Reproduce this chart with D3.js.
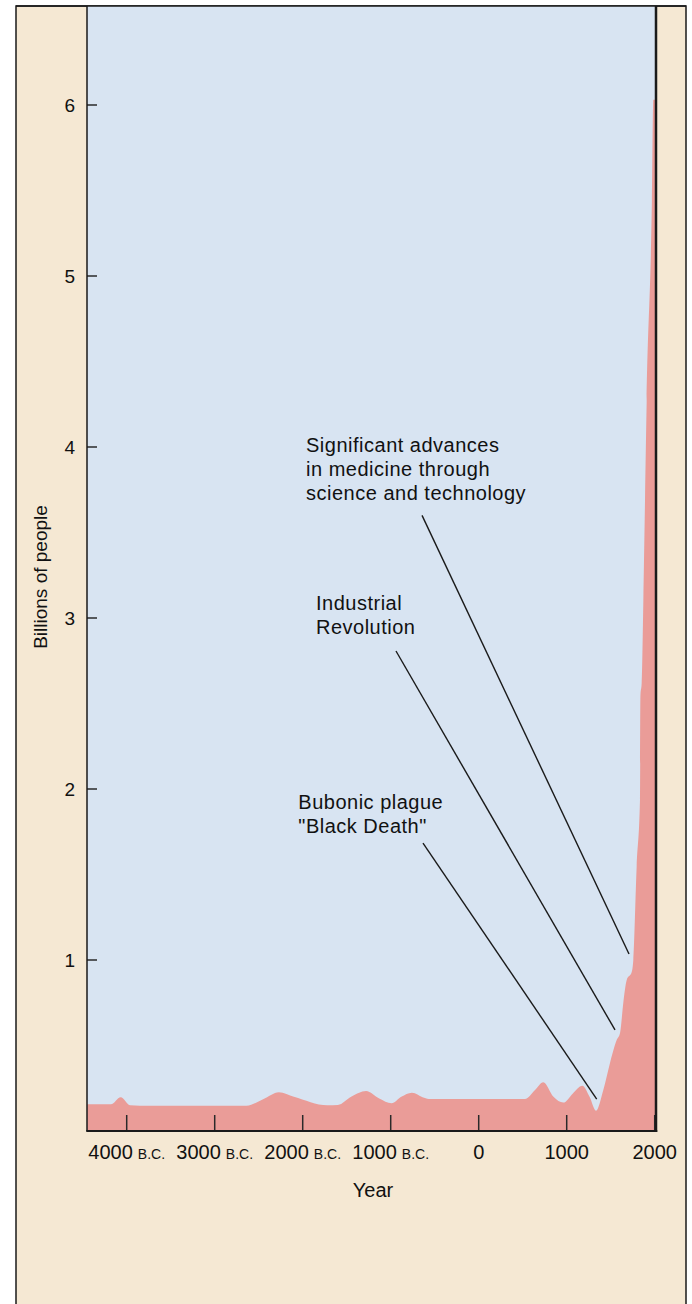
<!DOCTYPE html>
<html>
<head>
<meta charset="utf-8">
<script src="https://cdn.jsdelivr.net/npm/d3@7/dist/d3.min.js"></script>
<style>
  html, body { margin: 0; padding: 0; background: #ffffff; }
  svg { display: block; }
  text { font-family: "Liberation Sans", Arial, Helvetica, sans-serif; fill: #111; }
</style>
</head>
<body>
<svg id="chart" width="692" height="1304"></svg>
<script>
// ---- data ----
const years = [-4450, -4180, -4068, -3960, -3850, -2640, -2450, -2270, -2100, -1720, -1600, -1450, -1280, -1130, -990, -880, -760, -620, -550, 525, 640, 734, 850, 961, 1070, 1177, 1260, 1333, 1416, 1492, 1568, 1606, 1643, 1682, 1739, 1757, 1795, 1833, 1838, 1852, 1871, 1890, 1909, 1968, 1984, 2015];
const population = [0.156, 0.156, 0.198, 0.150, 0.148, 0.148, 0.185, 0.226, 0.200, 0.150, 0.152, 0.200, 0.234, 0.190, 0.162, 0.200, 0.224, 0.195, 0.187, 0.187, 0.240, 0.285, 0.200, 0.166, 0.220, 0.265, 0.200, 0.119, 0.240, 0.398, 0.532, 0.573, 0.749, 0.883, 0.930, 1.000, 1.546, 1.940, 2.550, 2.620, 3.100, 3.690, 4.270, 5.440, 6.030, 6.030];

const xTickYears = [-4000, -3000, -2000, -1000, 0, 1000, 2000];
const xTickMain = ["4000", "3000", "2000", "1000", "0", "1000", "2000"];
const xTickEra = ["B.C.", "B.C.", "B.C.", "B.C.", "", "", ""];
const yTickValues = [1, 2, 3, 4, 5, 6];

const annotationLines = [
  ["Significant advances", "in medicine through", "science and technology"],
  ["Industrial", "Revolution"],
  ["Bubonic plague", "\"Black Death\""]
];
const annotationLabelAt = [[-1962, 3.973], [-1849, 3.047], [-2050, 1.883]];
const annotationFrom = [[-644, 3.60], [-940, 2.807], [-633, 1.684]];
const annotationTo = [[1708, 1.035], [1549, 0.591], [1341, 0.187]];

// ---- layout ----
const frame = { left: 16, top: 6, right: 686, bottom: 1310 };
const plot = { left: 87, top: 6, right: 656, bottom: 1131 };

const x = d3.scaleLinear().domain([-4000, 2000]).range([126.7, 654.7]);
const y = d3.scaleLinear().domain([0, 6]).range([1131, 105]);

const svg = d3.select("#chart");

// background
svg.append("rect").attr("x", 0).attr("y", 0).attr("width", 692).attr("height", 1304).attr("fill", "#ffffff");
svg.append("rect")
  .attr("x", frame.left).attr("y", frame.top)
  .attr("width", frame.right - frame.left).attr("height", frame.bottom - frame.top)
  .attr("fill", "#F5E8D3").attr("stroke", "#1a1a1a").attr("stroke-width", 1.5);

svg.append("rect")
  .attr("x", plot.left).attr("y", plot.top)
  .attr("width", plot.right - plot.left).attr("height", plot.bottom - plot.top)
  .attr("fill", "#D8E4F2");

svg.append("clipPath").attr("id", "plotclip").append("rect")
  .attr("x", plot.left).attr("y", plot.top)
  .attr("width", plot.right - plot.left).attr("height", plot.bottom - plot.top);

const data = years.map((yr, i) => ({ year: yr, pop: population[i] }));
const area = d3.area()
  .x(d => x(d.year))
  .y0(y(0))
  .y1(d => y(d.pop))
  .curve(d3.curveMonotoneX);

svg.append("path")
  .datum(data)
  .attr("clip-path", "url(#plotclip)")
  .attr("d", area)
  .attr("fill", "#EA9C98");

// x ticks (inward)
svg.append("g").selectAll("line").data(xTickYears).join("line")
  .attr("x1", d => x(d)).attr("x2", d => x(d))
  .attr("y1", plot.bottom).attr("y2", plot.bottom - 16)
  .attr("stroke", "#2a2a2a").attr("stroke-width", 1.5);

// y ticks (inward)
svg.append("g").selectAll("line").data(yTickValues).join("line")
  .attr("x1", plot.left).attr("x2", plot.left + 10)
  .attr("y1", d => y(d)).attr("y2", d => y(d))
  .attr("stroke", "#2a2a2a").attr("stroke-width", 1.5);

// plot border lines
svg.append("line").attr("x1", plot.left).attr("x2", plot.left).attr("y1", plot.top).attr("y2", plot.bottom)
  .attr("stroke", "#1a1a1a").attr("stroke-width", 1.5);
svg.append("line").attr("x1", plot.left - 0.75).attr("x2", plot.right + 1.25).attr("y1", plot.bottom).attr("y2", plot.bottom)
  .attr("stroke", "#1a1a1a").attr("stroke-width", 2);
svg.append("line").attr("x1", plot.right).attr("x2", plot.right).attr("y1", plot.top).attr("y2", plot.bottom + 1)
  .attr("stroke", "#1a1a1a").attr("stroke-width", 2.5);
svg.append("line").attr("x1", frame.left).attr("x2", frame.right).attr("y1", frame.top).attr("y2", frame.top)
  .attr("stroke", "#1a1a1a").attr("stroke-width", 1.5);

// x tick labels
const xl = svg.append("g").selectAll("text").data(xTickYears).join("text")
  .attr("x", d => x(d)).attr("y", 1159)
  .attr("text-anchor", "middle");
xl.append("tspan").attr("font-size", 20).text((d, i) => xTickMain[i]);
xl.filter((d, i) => xTickEra[i] !== "").append("tspan")
  .attr("font-size", 14).attr("dx", 5).text((d, i) => xTickEra[xTickYears.indexOf(d)]);

// y tick labels
svg.append("g").selectAll("text").data(yTickValues).join("text")
  .attr("x", 75).attr("y", d => y(d) + 7)
  .attr("text-anchor", "end").attr("font-size", 19)
  .text(d => d);

// axis titles
svg.append("text").attr("x", 373).attr("y", 1197).attr("text-anchor", "middle").attr("font-size", 20).text("Year");
svg.append("text").attr("transform", "translate(47,577) rotate(-90)")
  .attr("text-anchor", "middle").attr("font-size", 19).text("Billions of people");

// annotations
annotationLines.forEach((lines, i) => {
  svg.append("line")
    .attr("x1", x(annotationFrom[i][0])).attr("y1", y(annotationFrom[i][1]))
    .attr("x2", x(annotationTo[i][0])).attr("y2", y(annotationTo[i][1]))
    .attr("stroke", "#1a1a1a").attr("stroke-width", 1.4);
  const t = svg.append("text")
    .attr("x", x(annotationLabelAt[i][0])).attr("y", y(annotationLabelAt[i][1]))
    .attr("font-size", 20).attr("letter-spacing", 0.5);
  lines.forEach((ln, j) => {
    t.append("tspan").attr("x", x(annotationLabelAt[i][0])).attr("dy", j === 0 ? 0 : 24).text(ln);
  });
});
</script>
</body>
</html>
